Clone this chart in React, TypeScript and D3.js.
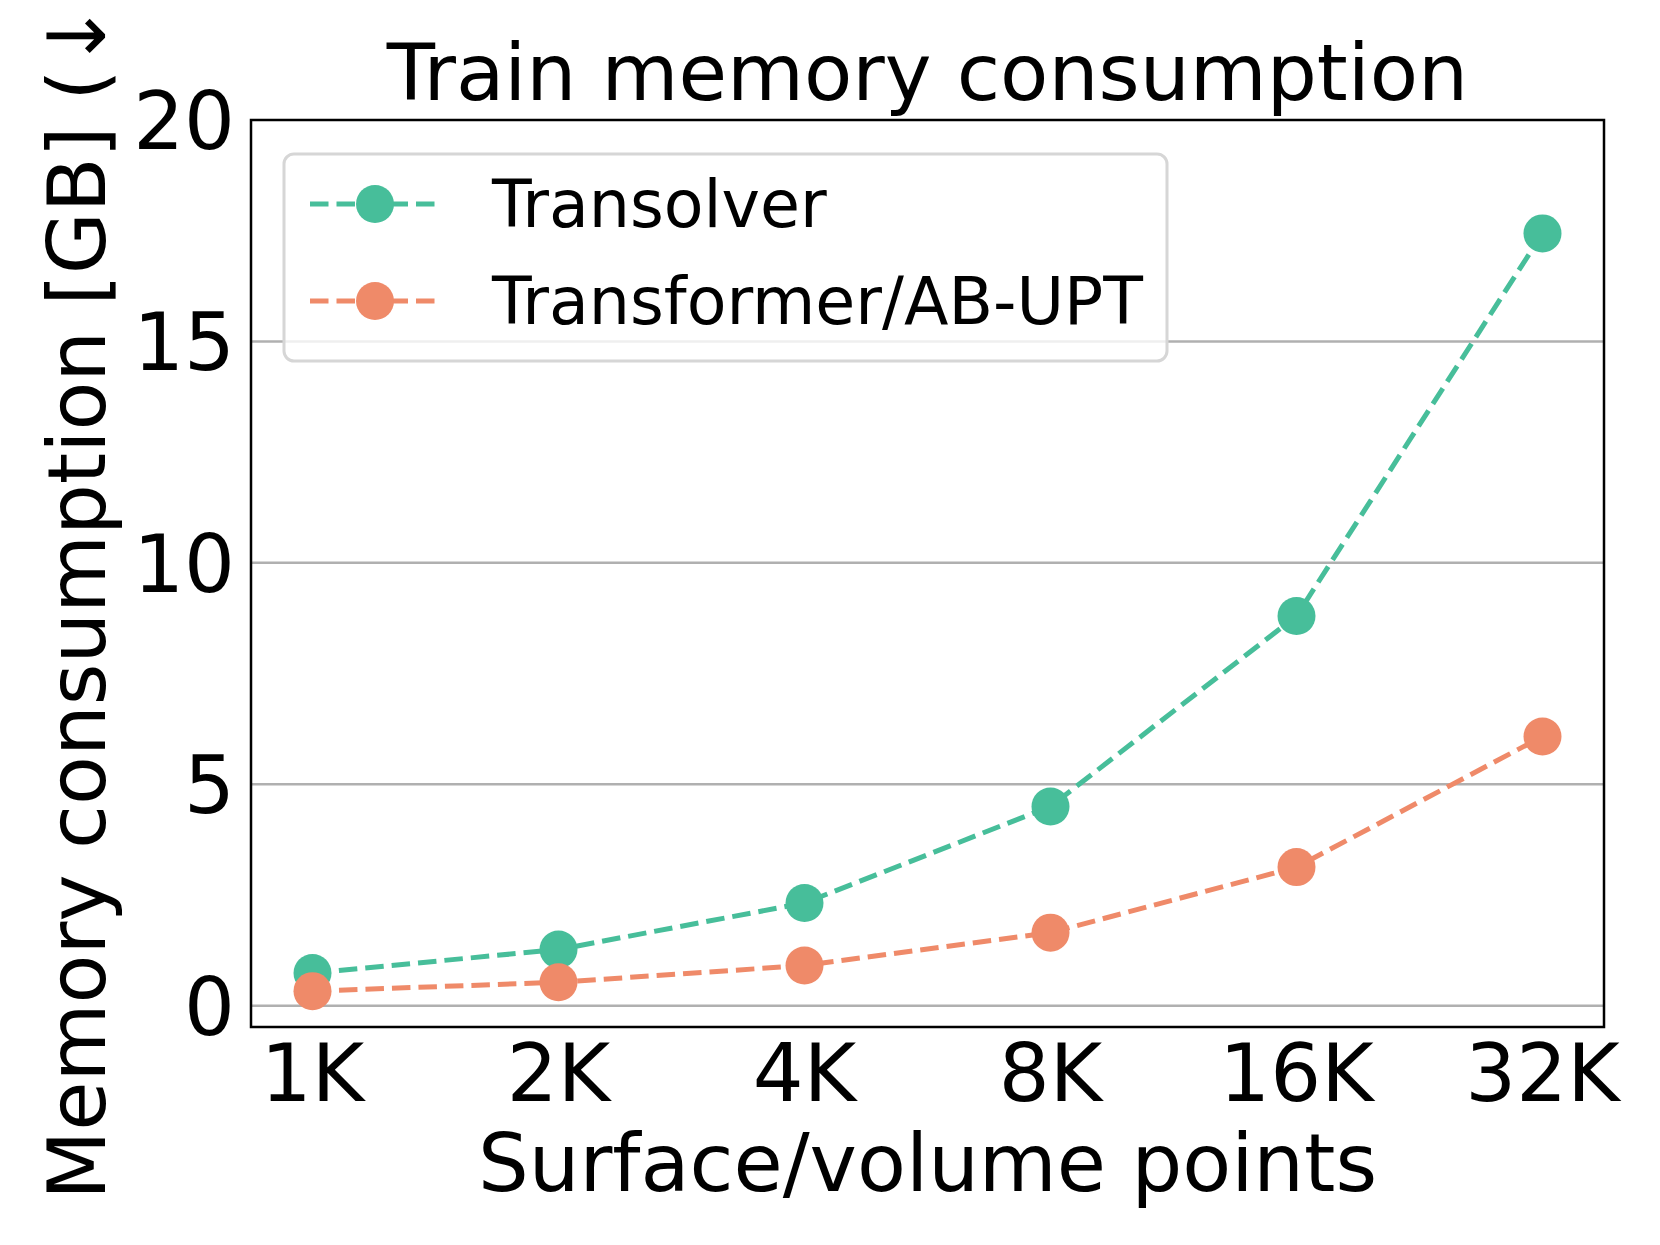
import React from "react";
import * as d3 from "d3";

const categories = ["1K", "2K", "4K", "8K", "16K", "32K"];
const transolver = [0.74, 1.27, 2.32, 4.5, 8.8, 17.44];
const transformer = [0.33, 0.53, 0.91, 1.65, 3.13, 6.08];
const yTicks = [0, 5, 10, 15, 20];
const seriesNames = ["Transolver", "Transformer/AB-UPT"];
const seriesColors = ["#47BE9A", "#EF8A69"];

const W = 1660;
const H = 1245;
const left = 251, right = 1604, top = 120, bottom = 1027;
const FONT = "'DejaVu Sans', sans-serif";

export default function App() {
  const x = d3.scaleLinear().domain([-0.25, categories.length - 0.75]).range([left, right]);
  const y = d3.scaleLinear().domain([-0.48, 20]).range([bottom, top]);
  const series = [transolver, transformer];
  const line = d3.line<number>().x((_, i) => x(i)).y((d) => y(d));
  const cx = (left + right) / 2;
  const cy = (top + bottom) / 2;
  const legX = 284, legY = 154, legW = 883, legH = 207;
  const rows = [204, 301];

  return (
    <svg width={W} height={H} style={{ position: "absolute", left: 0, top: 0, background: "#fff" }} fontFamily={FONT}>
      <rect x={0} y={0} width={W} height={H} fill="#fff" />
      {yTicks.filter((t) => t < 20).map((t) => (
        <line key={t} x1={left} x2={right} y1={y(t)} y2={y(t)} stroke="#b0b0b0" strokeWidth={2.5} />
      ))}
      {series.map((s, si) => (
        <g key={si}>
          <path d={line(s) || ""} fill="none" stroke={seriesColors[si]} strokeWidth={5} strokeDasharray="18.5,8" />
          {s.map((v, i) => (
            <circle key={i} cx={x(i)} cy={y(v)} r={19} fill={seriesColors[si]} />
          ))}
        </g>
      ))}
      <rect x={left} y={top} width={right - left} height={bottom - top} fill="none" stroke="#000" strokeWidth={2.5} />
      {yTicks.map((t) => (
        <text key={t} x={235} y={y(t)} dy="0.36em" textAnchor="end" fontSize={80} fill="#000">{t}</text>
      ))}
      {categories.map((c, i) => (
        <text key={c} x={x(i)} y={1101} textAnchor="middle" fontSize={80} fill="#000">{c}</text>
      ))}
      <text x={cx} y={1191} textAnchor="middle" fontSize={80} fill="#000">Surface/volume points</text>
      <text transform={`translate(105,${cy + 12}) rotate(-90)`} textAnchor="middle" fontSize={80} fill="#000">Memory consumption [GB] (↓)</text>
      <text x={cx} y={100} textAnchor="middle" fontSize={79} fill="#000">Train memory consumption</text>
      <rect x={legX} y={legY} width={legW} height={legH} rx={10} ry={10} fill="#fff" fillOpacity={0.8} stroke="#d6d6d6" strokeWidth={3} />
      {seriesNames.map((n, i) => (
        <g key={n}>
          <line x1={310} x2={440} y1={rows[i]} y2={rows[i]} stroke={seriesColors[i]} strokeWidth={5} strokeDasharray="18.5,8" />
          <circle cx={375} cy={rows[i]} r={19} fill={seriesColors[i]} />
          <text x={492} y={rows[i]} dy="0.36em" fontSize={65} fill="#000">{n}</text>
        </g>
      ))}
    </svg>
  );
}
